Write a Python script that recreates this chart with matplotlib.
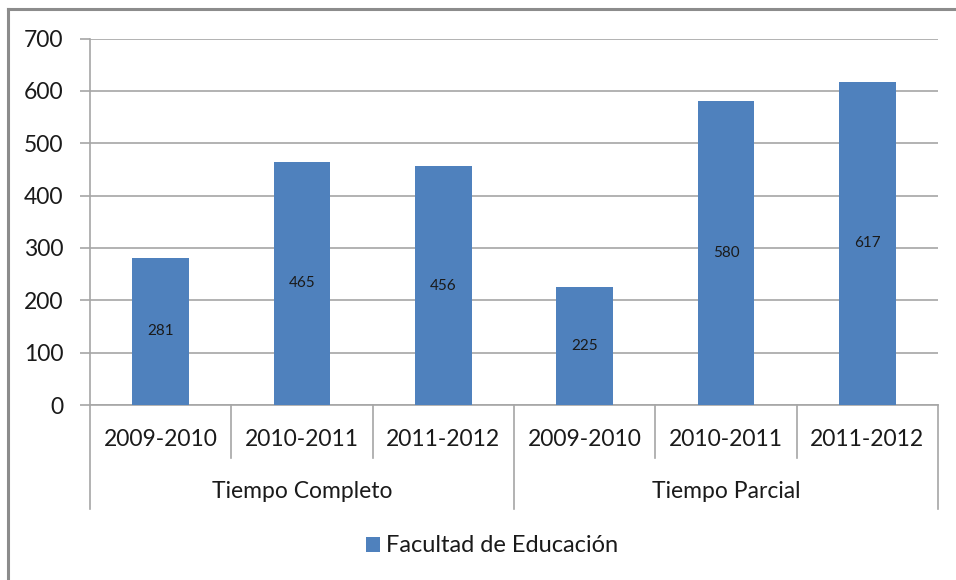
import matplotlib.pyplot as plt
from matplotlib.patches import Patch
import matplotlib.transforms as mtransforms

# datos del gráfico
years = ['2009-2010', '2010-2011', '2011-2012', '2009-2010', '2010-2011', '2011-2012']
groups = ['Tiempo Completo', 'Tiempo Parcial']
values = [281, 465, 456, 225, 580, 617]
series_name = 'Facultad de Educación'

plt.rcParams['font.family'] = ['Lato', 'DejaVu Sans']
bar_color = '#4f81bd'
grid_color = '#a6a6a6'
text_color = '#1a1a1a'

fig = plt.figure(figsize=(9.56, 5.8), dpi=100)
W, H = 956, 580
ax = fig.add_axes([90 / W, (H - 405) / H, (938 - 90) / W, (405 - 38.5) / H])

x = list(range(len(values)))
ax.bar(x, values, width=0.4, color=bar_color, zorder=3)

# etiquetas de datos en el centro de cada barra
for xi, v in zip(x, values):
    ax.text(xi, v / 2, str(v), ha='center', va='center', fontsize=11, color=text_color, zorder=4)

ax.set_xlim(-0.5, len(values) - 0.5)
ax.set_ylim(0, 700)
ax.set_yticks(range(0, 701, 100))
ax.yaxis.grid(True, color=grid_color, linewidth=1.2, zorder=0)
ax.tick_params(axis='y', length=7, width=1.2, color=grid_color, labelsize=16.5, labelcolor=text_color, pad=12)
ax.tick_params(axis='x', bottom=False, labelbottom=False)
for s in ['top', 'right']:
    ax.spines[s].set_visible(False)
ax.spines['left'].set_color(grid_color)
ax.spines['bottom'].set_color(grid_color)
ax.spines['left'].set_linewidth(1.2)
ax.spines['bottom'].set_linewidth(1.2)

# eje de categorías de dos niveles
trans = mtransforms.blended_transform_factory(ax.transData, ax.transAxes)
for i, lab in enumerate(years):
    ax.text(i, -0.095, lab, transform=trans, ha='center', va='center', fontsize=16.5, color=text_color)
for b in [0.5, 1.5, 3.5, 4.5]:
    ax.plot([b, b], [0, -0.145], transform=trans, color=grid_color, lw=1.2, clip_on=False)
for b in [-0.5, 2.5, 5.5]:
    ax.plot([b, b], [0, -0.284], transform=trans, color=grid_color, lw=1.2, clip_on=False)
for g, lab in enumerate(groups):
    ax.text(g * 3 + 1, -0.237, lab, transform=trans, ha='center', va='center', fontsize=16.5, color=text_color)

# leyenda
handle = Patch(facecolor=bar_color, edgecolor='none')
fig.legend([handle], [series_name], loc='center', bbox_to_anchor=(492 / W, (H - 546) / H),
           frameon=False, fontsize=17, handlelength=0.6, handleheight=0.6, handletextpad=0.25,
           labelcolor=text_color)

# borde del área del gráfico
fig.add_artist(plt.Line2D([7.5 / W, 1], [(H - 9) / H, (H - 9) / H], transform=fig.transFigure, color='#8c8c8c', lw=2.2))
fig.add_artist(plt.Line2D([7.5 / W, 7.5 / W], [0, (H - 9) / H], transform=fig.transFigure, color='#8c8c8c', lw=2.2))

fig.savefig('out.png', dpi=100)
